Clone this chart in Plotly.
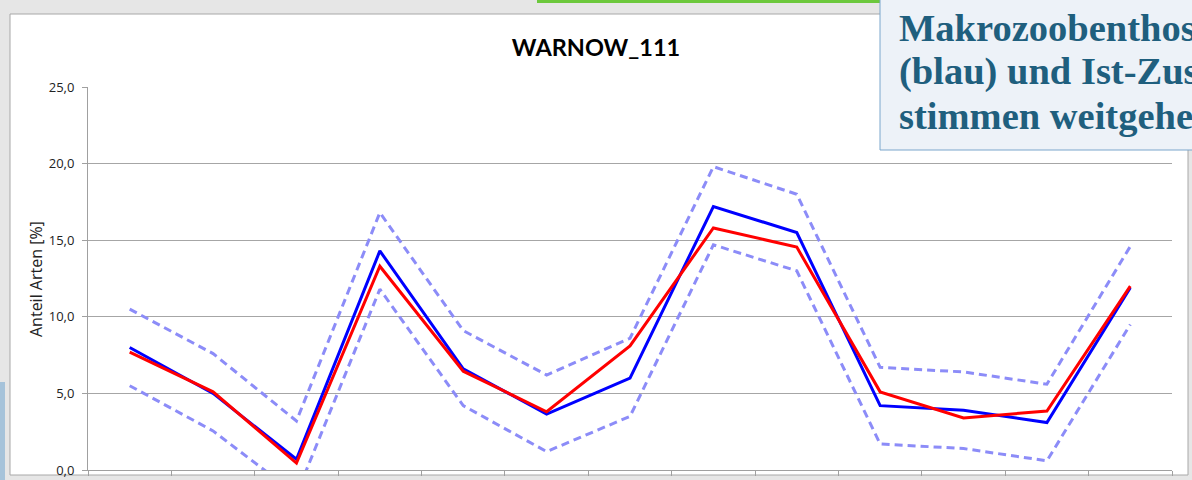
import plotly.graph_objects as go

# Data: 13 stations along the river
positions = list(range(1, 14))
blue_ref = [8.0, 5.0, 0.7, 14.3, 6.6, 3.65, 6.0, 17.2, 15.5, 4.2, 3.9, 3.1, 11.9]
red_ist = [7.7, 5.1, 0.45, 13.3, 6.45, 3.8, 8.1, 15.8, 14.55, 5.1, 3.4, 3.85, 12.0]
upper_band = [10.5, 7.6, 3.2, 16.8, 9.1, 6.2, 8.6, 19.8, 18.0, 6.7, 6.4, 5.6, 14.6]
lower_band = [5.5, 2.55, -1.6, 11.8, 4.2, 1.2, 3.5, 14.7, 13.0, 1.7, 1.4, 0.6, 9.5]
y_ticks = [0, 5, 10, 15, 20, 25]
boundaries = [i + 0.5 for i in range(0, 14)]
box_lines = ["Makrozoobenthos: Referenz", "(blau) und Ist-Zustand (rot)", "stimmen weitgehend überein"]

W, H = 1192, 480
L, R, T, B = 88, 1172, 87, 470  # plot area in pixels


def px_x(px):
    return (px - L) / (R - L)


def px_y(py):
    return (B - py) / (B - T)


fig = go.Figure()
dash_style = "8px,5px"
band_color = "#8C8CF8"
fig.add_trace(go.Scatter(x=positions, y=upper_band, mode="lines",
                         line=dict(color=band_color, width=3, dash=dash_style),
                         showlegend=False, hoverinfo="skip"))
fig.add_trace(go.Scatter(x=positions, y=lower_band, mode="lines",
                         line=dict(color=band_color, width=3, dash=dash_style),
                         showlegend=False, hoverinfo="skip"))
fig.add_trace(go.Scatter(x=positions, y=blue_ref, mode="lines",
                         line=dict(color="#0000FF", width=3), showlegend=False))
fig.add_trace(go.Scatter(x=positions, y=red_ist, mode="lines",
                         line=dict(color="#FF0000", width=3), showlegend=False))

shapes = [
    # white chart area
    dict(type="rect", xref="paper", yref="paper", layer="below",
         x0=px_x(10), x1=px_x(1188), y0=px_y(475), y1=px_y(14),
         fillcolor="white", line=dict(color="#A8A8A8", width=1)),
    # green strip at top
    dict(type="rect", xref="paper", yref="paper", layer="below",
         x0=px_x(537), x1=px_x(880), y0=px_y(3), y1=px_y(-5),
         fillcolor="#6CC83C", line=dict(width=0)),
    # blue strip at left
    dict(type="rect", xref="paper", yref="paper", layer="below",
         x0=px_x(0), x1=px_x(5), y0=px_y(480), y1=px_y(382),
         fillcolor="#A6C3DA", line=dict(width=0)),
    # text box
    dict(type="rect", xref="paper", yref="paper", layer="above",
         x0=px_x(880), x1=px_x(1230), y0=px_y(150), y1=px_y(-5),
         fillcolor="#EDF2F8", line=dict(color="#7AA6CC", width=1)),
]

annotations = [
    dict(text="Anteil Arten [%]", x=px_x(36), y=px_y(279), xref="paper", yref="paper",
         textangle=-90, showarrow=False, xanchor="center", yanchor="middle",
         font=dict(family="Open Sans", size=16, color="#222222")),
]
for i, line in enumerate(box_lines):
    annotations.append(dict(
        text="<b>" + line + "</b>", x=px_x(897), y=px_y(28 + 44 * i),
        xref="paper", yref="paper", showarrow=False,
        xanchor="left", yanchor="middle", align="left",
        font=dict(family="Liberation Serif", size=38.5, color="#1F5F7E")))

fig.update_layout(
    width=W, height=H,
    margin=dict(l=L, r=W - R, t=T, b=H - B, autoexpand=False),
    paper_bgcolor="#E6E6E6",
    plot_bgcolor="white",
    separators=",.",
    title=dict(text="<b>WARNOW_111</b>", x=0.5, xanchor="center",
               y=1 - 48 / H, yanchor="middle",
               font=dict(family="Lato", size=23.5, color="black")),
    shapes=shapes,
    annotations=annotations,
    xaxis=dict(range=[0.5, 13.5], tickmode="array", tickvals=boundaries,
               showticklabels=False, showgrid=False, zeroline=False,
               showline=True, linecolor="#A0A0A0", linewidth=1,
               ticks="outside", ticklen=5, tickcolor="#A0A0A0",
               automargin=False),
    yaxis=dict(range=[0, 25], tickmode="array", tickvals=y_ticks,
               tickformat=".1f", showgrid=True, gridcolor="#A6A6A6", gridwidth=1,
               zeroline=False, showline=True, linecolor="#A0A0A0", linewidth=1,
               ticks="outside", ticklen=5, tickcolor="#A0A0A0",
               ticklabelstandoff=5, automargin=False,
               tickfont=dict(family="Open Sans", size=13, color="#222222")),
)

fig.write_html("out.html", config={"displayModeBar": False},
               post_script="document.body.style.margin='0';")
